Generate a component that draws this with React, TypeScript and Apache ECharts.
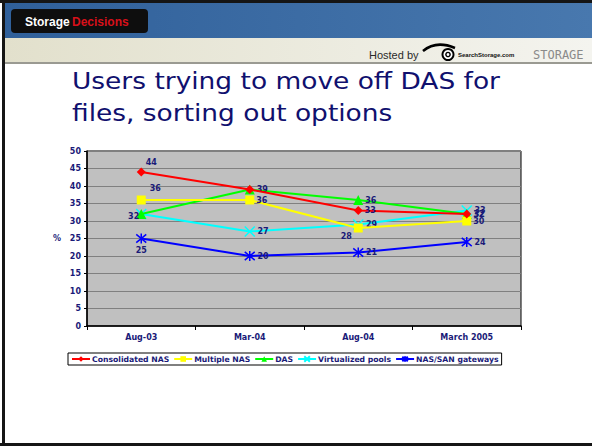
import React, { useEffect, useRef } from "react";
import * as echarts from "echarts";

// ---- Data ----
const categories = ["Aug-03", "Mar-04", "Aug-04", "March 2005"];
const seriesNames = ["Consolidated NAS", "Multiple NAS", "DAS", "Virtualized pools", "NAS/SAN gateways"];
const consolidatedNAS = [44, 39, 33, 32];
const multipleNAS = [36, 36, 28, 30];
const das = [32, 39, 36, 32];
const virtualizedPools = [32, 27, 29, 33];
const nasSanGateways = [25, 20, 21, 24];
const yMin = 0;
const yMax = 50;
const yStep = 5;

// label placement codes per point (style, not data)
const labelPlacement = [
  ["tr", "none", "r", "r"],
  ["tr2", "r", "bl", "r"],
  ["l", "r", "r", "r"],
  ["none", "r", "r", "r"],
  ["b", "r", "r", "r"],
];

const NAVY = "#1a1a78";
const FONT = "DejaVu Sans";

function labelFor(code: string) {
  const base = { color: NAVY, fontFamily: FONT, fontWeight: "bold" as const, fontSize: 8 };
  switch (code) {
    case "none":
      return { show: false };
    case "tr":
      return { ...base, show: true, position: "top", distance: 1, offset: [10, 0] };
    case "tr2":
      return { ...base, show: true, position: "top", distance: 3, offset: [14, 0] };
    case "bl":
      return { ...base, show: true, position: "bottom", distance: 0, offset: [-12, 0] };
    case "l":
      return { ...base, show: true, position: "left", distance: 0, offset: [3, 2] };
    case "b":
      return { ...base, show: true, position: "bottom", distance: 2 };
    default:
      return { ...base, show: true, position: "right", distance: 2 };
  }
}

const X_PATH = "path://M0,0L10,10M10,0L0,10";
const STAR_PATH = "path://M0,0L10,10M10,0L0,10M5,-1L5,11";

export default function App() {
  const ref = useRef<HTMLDivElement>(null);
  useEffect(() => {
    if (!ref.current) return;
    const chart = echarts.init(ref.current, null, { renderer: "svg" });
    const values = [consolidatedNAS, multipleNAS, das, virtualizedPools, nasSanGateways];
    const colors = ["#ff0000", "#ffff00", "#00ff00", "#00ffff", "#0000ff"];
    const symbols = ["diamond", "rect", "triangle", X_PATH, STAR_PATH];
    const sizes = [9, 9, 10, 10, 10];
    const series = values.map((vals, i) => ({
      name: seriesNames[i],
      type: "line",
      data: vals.map((v, j) => ({ value: v, label: labelFor(labelPlacement[i][j]) })),
      symbol: symbols[i],
      symbolSize: sizes[i],
      lineStyle: { color: colors[i], width: 2 },
      itemStyle: {
        color: colors[i],
        borderColor: colors[i],
        borderWidth: i >= 3 ? 1.5 : 0,
      },
      emphasis: { disabled: true },
      z: 10 - i,
    }));

    const option: any = {
      animation: false,
      backgroundColor: "#ffffff",
      textStyle: { fontFamily: FONT },
      grid: {
        left: 87,
        top: 151,
        right: 71,
        bottom: 120,
        show: true,
        backgroundColor: "#c0c0c0",
        borderColor: "#000000",
        borderWidth: 1,
      },
      xAxis: {
        type: "category",
        data: categories,
        boundaryGap: true,
        axisLine: { lineStyle: { color: "#000", width: 1.5 } },
        axisTick: { show: true, length: 4, lineStyle: { color: "#000" } },
        axisLabel: { color: NAVY, fontFamily: FONT, fontWeight: "bold", fontSize: 8, margin: 7 },
      },
      yAxis: {
        type: "value",
        min: yMin,
        max: yMax,
        interval: yStep,
        name: "%",
        nameLocation: "middle",
        nameRotate: 0,
        nameGap: 26,
        nameTextStyle: { color: NAVY, fontFamily: FONT, fontWeight: "bold", fontSize: 8 },
        axisLine: { show: true, lineStyle: { color: "#000", width: 1.5 } },
        axisTick: { show: true, length: 3, lineStyle: { color: "#000" } },
        axisLabel: { color: NAVY, fontFamily: FONT, fontWeight: "bold", fontSize: 8, margin: 6 },
        splitLine: { show: true, lineStyle: { color: "#808080", width: 1 } },
      },
      legend: {
        data: seriesNames,
        left: 68,
        top: 353,
        orient: "horizontal",
        backgroundColor: "#ffffff",
        borderColor: "#000000",
        borderWidth: 1,
        padding: [2, 3],
        itemWidth: 18,
        itemHeight: 7,
        itemGap: 4,
        textStyle: { color: NAVY, fontFamily: FONT, fontWeight: "bold", fontSize: 7.7, padding: [0, 0, 0, -3] },
      },
      graphic: [
        // slide border
        { type: "rect", shape: { x: 0, y: 0, width: 592, height: 3 }, style: { fill: "#151515" } },
        { type: "rect", shape: { x: 2, y: 0, width: 3, height: 446 }, style: { fill: "#151515" } },
        { type: "rect", shape: { x: 0, y: 443, width: 592, height: 3 }, style: { fill: "#151515" } },
        // blue header
        {
          type: "rect",
          shape: { x: 5, y: 3, width: 587, height: 35 },
          style: {
            fill: new echarts.graphic.LinearGradient(0, 0, 1, 0, [
              { offset: 0, color: "#30609a" },
              { offset: 1, color: "#4878ae" },
            ]),
          },
        },
        // beige bar
        {
          type: "rect",
          shape: { x: 5, y: 38, width: 587, height: 24 },
          style: {
            fill: new echarts.graphic.LinearGradient(0, 0, 1, 0, [
              { offset: 0, color: "#e2e0cc" },
              { offset: 1, color: "#f4f4ef" },
            ]),
          },
        },
        { type: "rect", shape: { x: 5, y: 62, width: 587, height: 2 }, style: { fill: "#9a9a92" } },
        // Storage Decisions badge
        { type: "rect", shape: { x: 11, y: 9, width: 137, height: 24, r: 4 }, style: { fill: "#0e0e0e" } },
        {
          type: "text",
          x: 25,
          y: 22,
          style: { text: "Storage", fill: "#ffffff", font: "bold 12px 'Liberation Sans'", textVerticalAlign: "middle" },
        },
        {
          type: "text",
          x: 72,
          y: 22,
          style: { text: "Decisions", fill: "#d8101a", font: "bold 12px 'Liberation Sans'", textVerticalAlign: "middle" },
        },
        // Hosted by
        {
          type: "text",
          x: 369,
          y: 55,
          style: { text: "Hosted by", fill: "#2a2a2a", font: "11px 'Liberation Sans'", textVerticalAlign: "middle" },
        },
        {
          type: "bezierCurve",
          shape: { x1: 423, y1: 51, x2: 455, y2: 48, cpx1: 436, cpy1: 40 },
          style: { stroke: "#000", lineWidth: 2.5, fill: "none" },
        },
        { type: "circle", shape: { cx: 448, cy: 54.5, r: 6.5 }, style: { fill: "#000" } },
        { type: "circle", shape: { cx: 448, cy: 54.5, r: 4.5 }, style: { fill: "#fff" } },
        { type: "circle", shape: { cx: 448, cy: 54.5, r: 2.8 }, style: { fill: "#000" } },
        { type: "circle", shape: { cx: 448, cy: 54.5, r: 1.4 }, style: { fill: "#fff" } },
        {
          type: "text",
          x: 458,
          y: 55,
          style: { text: "SearchStorage.com", fill: "#111", font: "bold 6px 'Liberation Sans'", textVerticalAlign: "middle" },
        },
        {
          type: "text",
          x: 533,
          y: 55,
          style: { text: "STORAGE", fill: "#8a8a8a", font: "12px 'DejaVu Sans Mono'", textVerticalAlign: "middle" },
        },
        // title
        {
          type: "text",
          x: 72,
          y: 81,
          scaleX: 1.15,
          style: { text: "Users trying to move off DAS for", fill: "#10106e", font: "23px 'DejaVu Sans'", textVerticalAlign: "middle" },
        },
        {
          type: "text",
          x: 72,
          y: 113.5,
          scaleX: 1.15,
          style: { text: "files, sorting out options", fill: "#10106e", font: "23px 'DejaVu Sans'", textVerticalAlign: "middle" },
        },
      ],
      series,
    };
    chart.setOption(option);
    return () => chart.dispose();
  }, []);
  return (
    <div
      ref={ref}
      style={{ position: "absolute", left: 0, top: 0, width: 592, height: 446, background: "#fff" }}
    />
  );
}
